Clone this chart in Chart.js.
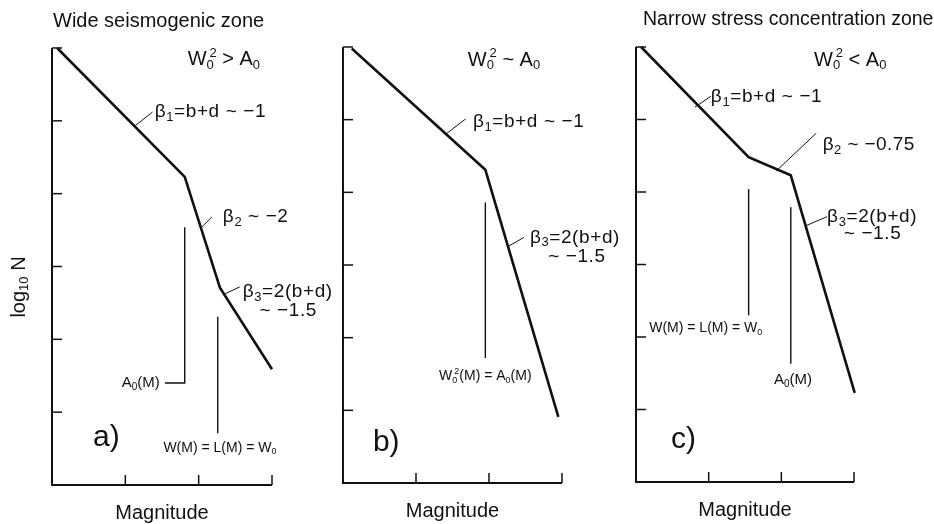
<!DOCTYPE html>
<html>
<head>
<meta charset="utf-8">
<script src="https://cdn.jsdelivr.net/npm/chart.js@4.4.1/dist/chart.umd.min.js"></script>
<style>
  html, body { margin: 0; padding: 0; background: #fff; }
  #wrap { position: relative; width: 934px; height: 524px; }
  #wrap canvas { position: absolute; left: 0; top: 0; }
</style>
</head>
<body>
<div id="wrap">
  <canvas id="panelA" width="934" height="524"></canvas>
  <canvas id="panelB" width="934" height="524"></canvas>
  <canvas id="panelC" width="934" height="524"></canvas>
</div>
<script>
// axis ticks (magnitude units / log10 N units)
const magTicks = [1, 2, 3];
const logNTicks = [1, 2, 3, 4, 5, 6];

// a) wide seismogenic zone
const magA = [0.07, 1.81, 2.29, 3.0];
const logNA = [6.0, 4.23, 2.71, 1.59];
const a0MarkAx = [1.54, 1.81, 1.81];
const a0MarkAy = [1.40, 1.40, 3.54];
const wMarkAx = [2.26, 2.26];
const wMarkAy = [0.71, 2.31];

// b) intermediate
const magB = [0.12, 1.95, 2.95];
const logNB = [5.98, 4.31, 0.91];
const markBx = [1.95, 1.95];
const markBy = [1.72, 3.86];

// c) narrow stress concentration zone
const magC = [0.07, 1.55, 2.13, 3.01];
const logNC = [6.0, 4.48, 4.23, 1.23];
const wMarkCx = [1.55, 1.55];
const wMarkCy = [2.30, 4.04];
const a0MarkCx = [2.13, 2.13];
const a0MarkCy = [1.63, 3.79];

const FONT = "'Liberation Sans', Arial, Helvetica, sans-serif";

function zip(xs, ys) {
    return xs.map((x, i) => ({ x: x, y: ys[i] }));
}

// tekst met _x (subscript) en ^x (superscript)
function parseRich(str) {
    const parts = [];
    for (let i = 0; i < str.length; i++) {
        const c = str[i];
        if ((c === '_' || c === '^') && i + 1 < str.length) {
            parts.push({ t: str[i + 1], mode: c === '_' ? 'sub' : 'sup' });
            i++;
        } else {
            if (parts.length && parts[parts.length - 1].mode === 'n') parts[parts.length - 1].t += c;
            else parts.push({ t: c, mode: 'n' });
        }
    }
    return parts;
}

function drawRich(ctx, str, x, y, size, align, spacing) {
    const parts = parseRich(str);
    const small = Math.round(size * 0.66);
    const sp = spacing || 0;
    let total = 0;
    parts.forEach((p, i) => {
        ctx.font = (p.mode === 'n' ? size : small) + 'px ' + FONT;
        ctx.letterSpacing = sp + 'px';
        p.w = ctx.measureText(p.t).width;
        // superscript direct na subscript: (bijna) boven elkaar
        p.back = (p.mode === 'sup' && i > 0 && parts[i - 1].mode === 'sub') ? parts[i - 1].w * 0.6 : 0;
        total += p.w - p.back;
    });
    let cx = x;
    if (align === 'center') cx = x - total / 2;
    if (align === 'right') cx = x - total;
    ctx.textAlign = 'left';
    ctx.textBaseline = 'middle';
    parts.forEach(p => {
        let dy = 0;
        if (p.mode === 'sub') dy = size * 0.28;
        if (p.mode === 'sup') dy = -size * 0.32;
        cx -= p.back;
        ctx.font = (p.mode === 'n' ? size : small) + 'px ' + FONT;
        ctx.letterSpacing = sp + 'px';
        ctx.fillText(p.t, cx, y + dy);
        cx += p.w;
    });
    ctx.letterSpacing = '0px';
}

// assen, ticks en tekst worden via de schalen van Chart.js geplaatst
const figurePlugin = {
    id: 'figure',
    afterDatasetsDraw(chart, args, opts) {
        const ctx = chart.ctx;
        const xs = chart.scales.x, ys = chart.scales.y;
        const area = chart.chartArea;
        ctx.save();
        ctx.strokeStyle = '#111';
        ctx.fillStyle = '#111';

        // assen
        ctx.lineWidth = 2;
        ctx.beginPath();
        ctx.moveTo(area.left, ys.getPixelForValue(6));
        ctx.lineTo(area.left, ys.getPixelForValue(0));
        ctx.lineTo(xs.getPixelForValue(3), ys.getPixelForValue(0));
        ctx.stroke();

        ctx.lineWidth = 1.5;
        logNTicks.forEach(v => {
            const py = ys.getPixelForValue(v);
            ctx.beginPath();
            ctx.moveTo(area.left, py);
            ctx.lineTo(area.left + 10, py);
            ctx.stroke();
        });
        magTicks.forEach(v => {
            const px = xs.getPixelForValue(v);
            ctx.beginPath();
            ctx.moveTo(px, area.bottom);
            ctx.lineTo(px, area.bottom - 10);
            ctx.stroke();
        });

        // verwijslijntjes
        ctx.lineWidth = 1;
        (opts.leaders || []).forEach(l => {
            ctx.beginPath();
            ctx.moveTo(xs.getPixelForValue(l[0]), ys.getPixelForValue(l[1]));
            ctx.lineTo(xs.getPixelForValue(l[2]), ys.getPixelForValue(l[3]));
            ctx.stroke();
        });

        // labels
        (opts.labels || []).forEach(l => {
            drawRich(ctx, l.text, xs.getPixelForValue(l.x), ys.getPixelForValue(l.y), l.size, l.align || 'left', l.sp);
        });

        // titel boven het paneel
        if (opts.title) {
            drawRich(ctx, opts.title, area.left + opts.titleDx, area.top - 27, opts.titleSize, 'left');
        }

        // as-titels
        drawRich(ctx, 'Magnitude', (area.left + area.right) / 2, area.bottom + 28, 20, 'center');
        if (opts.yTitle) {
            ctx.save();
            ctx.translate(19, 287);
            ctx.rotate(-Math.PI / 2);
            drawRich(ctx, 'log_1_0 N', 0, 0, 20, 'center');
            ctx.restore();
        }
        ctx.restore();
    }
};

function curve(points, width) {
    return {
        data: points,
        showLine: true,
        borderColor: '#111',
        borderWidth: width,
        pointRadius: 0,
        clip: false,
        tension: 0
    };
}

function makePanel(id, padding, datasets, fig) {
    const ctx = document.getElementById(id).getContext('2d');
    return new Chart(ctx, {
        type: 'scatter',
        data: { datasets: datasets },
        options: {
            responsive: false,
            animation: false,
            events: [],
            layout: { padding: padding },
            plugins: {
                legend: { display: false },
                tooltip: { enabled: false },
                figure: fig
            },
            scales: {
                x: { type: 'linear', min: 0, max: 3, display: false },
                y: { type: 'linear', min: 0, max: 6, display: false }
            }
        },
        plugins: [figurePlugin]
    });
}

makePanel('panelA', { left: 52, right: 662, top: 48, bottom: 39 }, [
    curve(zip(magA, logNA), 2.6),
    curve(zip(a0MarkAx, a0MarkAy), 1.4),
    curve(zip(wMarkAx, wMarkAy), 1.4)
], {
    title: 'Wide seismogenic zone',
    titleSize: 20,
    titleDx: 1,
    yTitle: true,
    leaders: [
        [1.13, 4.93, 1.37, 5.12],
        [2.04, 3.54, 2.18, 3.68],
        [2.33, 2.61, 2.56, 2.72]
    ],
    labels: [
        { text: 'W_0^2 > A_0', x: 1.85, y: 5.84, size: 20 },
        { text: 'β_1=b+d ~ −1', x: 1.40, y: 5.12, size: 19, sp: 0.6 },
        { text: 'β_2 ~ −2', x: 2.33, y: 3.68, size: 19, sp: 0.6 },
        { text: 'β_3=2(b+d)', x: 2.60, y: 2.65, size: 19, sp: 0.6 },
        { text: '~ −1.5', x: 2.83, y: 2.39, size: 19, sp: 0.6 },
        { text: 'A_0(M)', x: 1.47, y: 1.40, size: 15, align: 'right' },
        { text: 'W(M) = L(M) = W_0', x: 2.29, y: 0.51, size: 14, align: 'center' },
        { text: 'a)', x: 0.56, y: 0.65, size: 30 }
    ]
});

makePanel('panelB', { left: 343, right: 372, top: 47, bottom: 41 }, [
    curve(zip(magB, logNB), 2.6),
    curve(zip(markBx, markBy), 1.4)
], {
    leaders: [
        [1.42, 4.81, 1.68, 5.01],
        [2.25, 3.25, 2.48, 3.38]
    ],
    labels: [
        { text: 'W_0^2 ~ A_0', x: 1.71, y: 5.82, size: 20 },
        { text: 'β_1=b+d ~ −1', x: 1.78, y: 4.97, size: 19, sp: 0.6 },
        { text: 'β_3=2(b+d)', x: 2.56, y: 3.38, size: 19, sp: 0.6 },
        { text: '~ −1.5', x: 2.81, y: 3.11, size: 19, sp: 0.6 },
        { text: 'W_0^2(M) = A_0(M)', x: 1.95, y: 1.47, size: 14, align: 'center' },
        { text: 'b)', x: 0.41, y: 0.55, size: 30 }
    ]
});

makePanel('panelC', { left: 636, right: 80, top: 47, bottom: 42 }, [
    curve(zip(magC, logNC), 2.6),
    curve(zip(wMarkCx, wMarkCy), 1.4),
    curve(zip(a0MarkCx, a0MarkCy), 1.4)
], {
    title: 'Narrow stress concentration zone',
    titleSize: 19.5,
    titleDx: 7,
    leaders: [
        [0.81, 5.17, 1.03, 5.32],
        [1.93, 4.29, 2.48, 4.81],
        [2.35, 3.54, 2.63, 3.66]
    ],
    labels: [
        { text: 'W_0^2 < A_0', x: 2.45, y: 5.82, size: 20 },
        { text: 'β_1=b+d ~ −1', x: 1.03, y: 5.31, size: 19, sp: 0.6 },
        { text: 'β_2 ~ −0.75', x: 2.57, y: 4.65, size: 19, sp: 0.4 },
        { text: 'β_3=2(b+d)', x: 2.63, y: 3.66, size: 19, sp: 0.6 },
        { text: '~ −1.5', x: 2.86, y: 3.43, size: 19, sp: 0.6 },
        { text: 'W(M) = L(M) = W_0', x: 0.96, y: 2.12, size: 14, align: 'center' },
        { text: 'A_0(M)', x: 2.16, y: 1.41, size: 15, align: 'center' },
        { text: 'c)', x: 0.48, y: 0.58, size: 30 }
    ]
});
</script>
</body>
</html>
